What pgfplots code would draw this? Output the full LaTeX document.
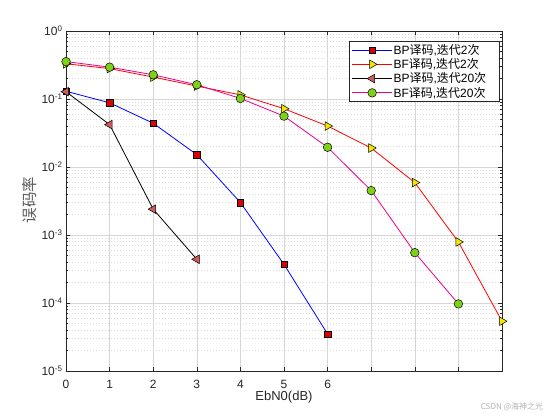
\documentclass[border=0pt]{standalone}
\usepackage{pgfplots}
\pgfplotsset{compat=1.18}
\usepackage{fontspec}
\setmainfont{Liberation Sans}
\newfontfamily\cjk{Noto Sans CJK SC}
\definecolor{axgray}{RGB}{38,38,38}
\definecolor{mred}{RGB}{220,0,0}
\definecolor{myel}{RGB}{240,230,0}
\definecolor{mbrick}{RGB}{205,92,92}
\definecolor{mgreen}{RGB}{125,210,25}
\begin{document}
\begin{tikzpicture}
\path[use as bounding box] (-66pt,-46pt) rectangle (483pt,371pt);
\begin{axis}[
  at={(0pt,0pt)}, anchor=south west,
  scale only axis, width=436pt, height=340pt,
  ymode=log, xmin=0, xmax=10, ymin=1e-5, ymax=1,
  xtick={0,1,2,3,4,5,6,7,8,9,10},
  xticklabels={0,1,2,3,4,5,6,{},{},{},{}},
  ytick={1e-5,1e-4,1e-3,1e-2,1e-1,1},
  yticklabels={10\textsuperscript{-5},10\textsuperscript{-4},10\textsuperscript{-3},10\textsuperscript{-2},10\textsuperscript{-1},10\textsuperscript{0}},
  xtick pos=both, ytick pos=both,
  xticklabel pos=bottom, yticklabel pos=left,
  xmajorgrids, ymajorgrids, yminorgrids,
  major grid style={black!16, line width=0.5pt},
  minor grid style={black!14, dash pattern=on 1.2pt off 1.8pt, line width=0.4pt},
  axis line style={axgray, line width=0.6pt},
  tick style={axgray, line width=0.5pt},
  major tick length=4.5pt, minor tick length=2.5pt,
  ticklabel style={font=\fontsize{12}{12}\selectfont, text=axgray},
  xticklabel style={yshift=-6pt},
  xlabel={EbN0(dB)},
  xlabel style={font=\fontsize{13}{13}\selectfont, text=axgray, at={(axis description cs:0.5,-0.078)}, anchor=center},
  ylabel={\cjk 误码率},
  ylabel style={font=\fontsize{15.5}{15.5}\selectfont, text=black!65, at={(axis description cs:-0.0826,0.503)}, anchor=center},
  clip=false,
  legend cell align=left,
  legend style={at={(0.995,0.9706)}, anchor=north east, draw=axgray, line width=0.5pt,
    font=\fontsize{12}{14}\selectfont, inner xsep=3pt, inner ysep=2pt, row sep=0.7pt,
    nodes={inner sep=1pt}},
  legend image code/.code={\draw[mark repeat=2, mark phase=2, #1] plot coordinates {(0pt,0pt)(20pt,0pt)(40pt,0pt)};},
]
\addplot[blue, line width=0.8pt, mark=square*, mark size=3.2pt, mark options={solid, fill=mred, draw=black, line width=0.5pt}]
coordinates {(0,0.13)(1,0.088)(2,0.044)(3,0.0152)(4,0.0030)(5,3.7e-4)(6,3.5e-5)};
\addlegendentry{BP{\cjk 译码},{\cjk 迭代}2{\cjk 次}}
\addplot[red, line width=0.8pt, mark=triangle*, mark size=5pt, mark options={solid, rotate=-90, fill=myel, draw=black, line width=0.5pt}]
coordinates {(0,0.33)(1,0.28)(2,0.21)(3,0.155)(4,0.115)(5,0.072)(6,0.040)(7,0.019)(8,0.0059)(9,7.9e-4)(10,5.4e-5)};
\addlegendentry{BF{\cjk 译码},{\cjk 迭代}2{\cjk 次}}
\addplot[black, line width=0.8pt, mark=triangle*, mark size=5pt, mark options={solid, rotate=90, fill=mbrick, draw=black, line width=0.5pt}]
coordinates {(0,0.128)(1,0.042)(2,0.0024)(3,4.4e-4)};
\addlegendentry{BP{\cjk 译码},{\cjk 迭代}20{\cjk 次}}
\addplot[magenta, line width=0.8pt, mark=*, mark size=4.3pt, mark options={solid, fill=mgreen, draw=black, line width=0.5pt}]
coordinates {(0,0.355)(1,0.294)(2,0.227)(3,0.162)(4,0.102)(5,0.056)(6,0.0195)(7,0.0045)(8,5.5e-4)(9,9.7e-5)};
\addlegendentry{BF{\cjk 译码},{\cjk 迭代}20{\cjk 次}\hspace*{10pt}}
\end{axis}
\node[font=\fontsize{8}{8}\selectfont\cjk, text=black!30] at (446pt,-36pt) {CSDN @海神之光};
\end{tikzpicture}
\end{document}
